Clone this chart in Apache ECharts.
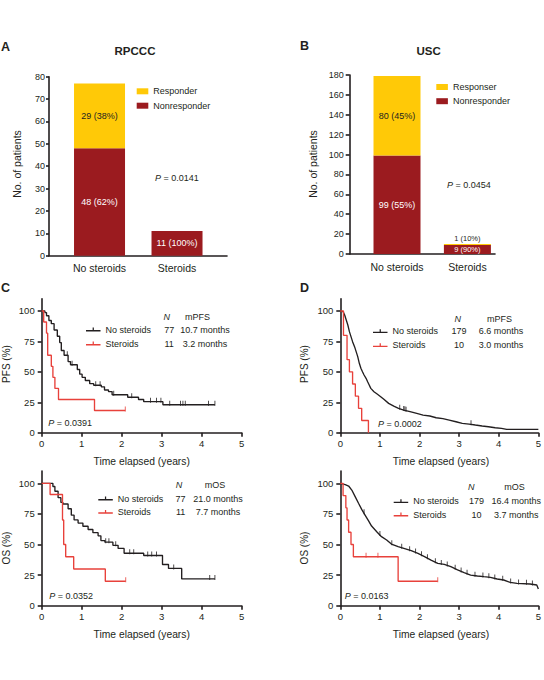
<!DOCTYPE html>
<html>
<head>
<meta charset="UTF-8">
<title>Steroids: response and survival</title>
<script src="https://cdn.jsdelivr.net/npm/echarts@6/dist/echarts.min.js"></script>
<style>
  html, body { margin: 0; padding: 0; background: #fff; }
  #chart { width: 544px; height: 680px; }
</style>
</head>
<body>
<div id="chart"></div>
<script>
// ---- bar panels (A, B) ----
const barCategories = ['No steroids', 'Steroids'];
const rpcccNonresponder = [48, 11];
const rpcccResponder = [29, 0];
const uscNonresponder = [99, 9];
const uscResponder = [80, 1];

// ---- Kaplan-Meier panels: times in years, survival in % ----
// C: PFS, RPCCC
const pfsRpcccNoT = [0, 0.08, 0.12, 0.18, 0.24, 0.31, 0.39, 0.45, 0.49, 0.56, 0.66, 0.72, 0.89, 0.95, 1.01, 1.09, 1.2, 1.3, 1.49, 1.57, 1.67, 1.76, 2.15, 2.42, 2.55, 3.03, 4.33];
const pfsRpcccNoS = [100, 98.7, 96.1, 92.2, 89.6, 84.4, 79.2, 74.0, 67.5, 63.6, 58.4, 55.8, 51.9, 48.1, 45.5, 42.9, 40.3, 39.0, 37.7, 35.1, 33.8, 31.2, 29.1, 27.3, 25.5, 23.0, 23.0];
const pfsRpcccNoCens = [0.64, 0.76, 1.35, 1.46, 1.8, 2.25, 2.72, 2.87, 2.98, 3.2, 3.47, 3.53, 3.59, 4.17, 4.33];
const pfsRpcccStT = [0, 0.05, 0.12, 0.15, 0.24, 0.28, 0.33, 0.42, 1.32, 2.09];
const pfsRpcccStS = [100, 90.9, 81.8, 63.6, 54.5, 45.5, 36.4, 27.3, 18.2, 18.2];
const pfsRpcccStCens = [2.09];
const pfsRpcccN = [77, 11];
const pfsRpcccMedian = ['10.7 months', '3.2 months'];

// D: PFS, USC
const pfsUscNoT = [0, 0.07, 0.11, 0.15, 0.19, 0.23, 0.27, 0.31, 0.36, 0.4, 0.44, 0.48, 0.52, 0.56, 0.6, 0.65, 0.69, 0.73, 0.77, 0.85, 0.93, 1.02, 1.1, 1.22, 1.35, 1.47, 1.6, 1.76, 1.93, 2.09, 2.26, 2.42, 2.59, 2.75, 2.92, 3.08, 3.25, 3.41, 3.58, 3.74, 3.91, 4.07, 4.2, 5.0];
const pfsUscNoS = [100, 99.5, 96.7, 92.6, 88.5, 83.0, 78.9, 74.8, 70.7, 66.6, 62.5, 57.0, 52.9, 50.1, 47.4, 44.7, 41.9, 39.2, 36.4, 33.7, 31.8, 29.6, 27.4, 24.1, 21.9, 20.0, 18.6, 17.3, 15.9, 14.5, 13.7, 12.3, 11.5, 10.4, 9.0, 7.7, 7.1, 6.3, 5.5, 4.9, 4.1, 3.6, 2.7, 2.7];
const pfsUscNoCens = [1.5, 1.6, 1.63, 1.66, 3.3];
const pfsUscStT = [0, 0.08, 0.17, 0.23, 0.31, 0.38, 0.46, 0.54, 0.71];
const pfsUscStS = [100, 80, 60, 50, 40, 30, 20, 10, 0];
const pfsUscStCens = [];
const pfsUscN = [179, 10];
const pfsUscMedian = ['6.6 months', '3.0 months'];

// E: OS, RPCCC
const osRpcccNoT = [0, 0.28, 0.33, 0.41, 0.48, 0.53, 0.66, 0.74, 0.81, 0.91, 1.03, 1.16, 1.28, 1.41, 1.48, 1.58, 1.78, 1.91, 2.06, 2.55, 3.02, 3.17, 3.5, 4.33];
const osRpcccNoS = [100, 97.4, 93.5, 88.3, 84.4, 83.1, 79.2, 74.0, 70.1, 67.5, 64.9, 62.3, 59.7, 57.1, 53.2, 51.9, 49.3, 46.8, 42.9, 41.0, 33.7, 30.5, 21.9, 21.9];
const osRpcccNoCens = [1.6, 1.68, 1.85, 2.2, 2.3, 2.65, 2.75, 2.87, 3.3, 4.2, 4.33];
const osRpcccStT = [0, 0.21, 0.52, 0.55, 0.6, 0.8, 1.59, 2.1];
const osRpcccStS = [100, 90.9, 70, 50, 40, 30, 20, 20];
const osRpcccStCens = [2.1];
const osRpcccN = [77, 11];
const osRpcccMedian = ['21.0 months', '7.7 months'];

// F: OS, USC
const osUscNoT = [0, 0.125, 0.21, 0.29, 0.375, 0.46, 0.54, 0.625, 0.71, 0.79, 0.92, 1.04, 1.17, 1.29, 1.46, 1.625, 1.79, 1.96, 2.125, 2.29, 2.46, 2.625, 2.79, 2.96, 3.125, 3.29, 3.46, 3.625, 3.79, 3.96, 4.125, 4.29, 4.46, 4.79, 4.96, 5.0];
const osUscNoS = [100, 99, 97.8, 94.5, 89.1, 83.7, 78.7, 74.1, 69.5, 65.1, 60.5, 56.4, 53.7, 50.4, 48.2, 46.6, 45, 42.8, 40.1, 37.3, 34.6, 33.8, 31.9, 29.2, 27, 25, 24.3, 23.7, 23.2, 21.8, 21, 19, 18.3, 17.7, 16.9, 13.6];
const osUscNoCens = [0.6, 1.0, 1.3, 1.55, 1.75, 1.9, 2.05, 2.2, 2.4, 2.55, 2.7, 2.9, 3.05, 3.2, 3.4, 3.6, 3.75, 3.9, 4.1, 4.3, 4.5, 4.7, 4.85];
const osUscStT = [0, 0.07, 0.14, 0.17, 0.21, 0.27, 0.33, 1.46, 2.46];
const osUscStS = [100, 90, 80, 70, 60, 50, 40, 20, 20];
const osUscStCens = [0.65, 0.95, 2.46];
const osUscN = [179, 10];
const osUscMedian = ['16.4 months', '3.7 months'];

const pValues = ['0.0141', '0.0454', '0.0391', '0.0002', '0.0352', '0.0163'];
const kmTicks = [0, 25, 50, 75, 100];

// ---- styling ----
const FONT = 'Liberation Sans, Arial, Helvetica, sans-serif';
const INK = '#231f20';
const RED = '#e8413b';
const YELLOW = '#ffc907';
const MAROON = '#9b1b1f';

const chart = echarts.init(document.getElementById('chart'), null, { renderer: 'svg' });

const axisLineStyle = { color: INK, width: 1.6 };

// value of a KM curve at time t (step, or linear for the dense curves)
function survAt(t, T, S, linear) {
  let i = 0;
  while (i + 1 < T.length && T[i + 1] <= t) i++;
  if (linear && i + 1 < T.length) {
    const f = (t - T[i]) / (T[i + 1] - T[i]);
    return S[i] + f * (S[i + 1] - S[i]);
  }
  return S[i];
}

const grids = [
  { left: 49, top: 76.7, width: 178, height: 179 },      // A
  { left: 349.7, top: 75, width: 145.3, height: 179 },   // B
  { left: 41.7, top: 298.8, width: 200, height: 133.9 }, // C
  { left: 340.3, top: 298.8, width: 201.7, height: 133.9 }, // D
  { left: 41.7, top: 471.1, width: 200, height: 134.6 }, // E
  { left: 340.3, top: 471.1, width: 201.7, height: 134.6 } // F
];

const xAxes = [];
const yAxes = [];
const series = [];
const legends = [];
const graphics = [];

function txt(text, x, y, opts) {
  const o = opts || {};
  return {
    type: 'text', x: x, y: y, rotation: o.rotation || 0, silent: true,
    style: {
      text: text, fill: INK, fontFamily: FONT,
      fontSize: o.size || 9, fontWeight: o.weight || 'normal', fontStyle: o.italic ? 'italic' : 'normal',
      align: o.align || 'left', verticalAlign: 'middle', rich: o.rich
    }
  };
}

// ---- bar panels ----
// data go in as [count, categoryIndex] so that the count is the stacked dimension
const barPanels = [
  { grid: 0, non: rpcccNonresponder, resp: rpcccResponder, respName: 'Responder', min: -0.652, max: 1.645,
    yMax: 80, yInt: 10, barWidth: 51, tickLen: 3, labMargin: 4, legend: { left: 136.7, top: 86.3, gap: 4.4 } },
  { grid: 1, non: uscNonresponder, resp: uscResponder, respName: 'Responser', min: -0.672, max: 1.392,
    yMax: 180, yInt: 20, barWidth: 47, tickLen: 4, labMargin: 6, legend: { left: 436.3, top: 82, gap: 4.2 } }
];

barPanels.forEach(p => {
  const totals = p.non.map((v, i) => v + p.resp[i]);
  const fmt = prm => {
    const v = prm.value[0];
    if (!v) return '';
    return v + ' (' + Math.round(v / totals[prm.value[1]] * 100) + '%)';
  };
  xAxes.push({
    gridIndex: p.grid, type: 'value', min: p.min, max: p.max,
    axisLine: { show: true, onZero: false, lineStyle: axisLineStyle },
    axisTick: { show: false }, splitLine: { show: false },
    axisLabel: { customValues: [0, 1], formatter: v => barCategories[Math.round(v)],
      color: INK, fontFamily: FONT, fontSize: 10.5, margin: 7 }
  });
  yAxes.push({
    gridIndex: p.grid, type: 'value', min: 0, max: p.yMax, interval: p.yInt,
    axisLine: { show: true, onZero: false, lineStyle: axisLineStyle },
    axisTick: { show: true, length: p.tickLen, lineStyle: axisLineStyle },
    splitLine: { show: false },
    axisLabel: { color: INK, fontFamily: FONT, fontSize: 9, margin: p.labMargin }
  });
  const small = v => v / p.yMax < 0.08;
  series.push({
    type: 'bar', name: 'Nonresponder', xAxisIndex: p.grid, yAxisIndex: p.grid, stack: 'b' + p.grid,
    encode: { x: 1, y: 0 },
    barWidth: p.barWidth, itemStyle: { color: MAROON },
    label: { show: true, position: 'inside', color: '#fff', fontFamily: FONT, fontSize: 9, formatter: fmt },
    data: p.non.map((v, i) => small(v) && totals[i] !== v
      ? { value: [v, i], label: { fontSize: 7.5 } } : [v, i])
  });
  series.push({
    type: 'bar', name: p.respName, xAxisIndex: p.grid, yAxisIndex: p.grid, stack: 'b' + p.grid,
    encode: { x: 1, y: 0 },
    barWidth: p.barWidth, itemStyle: { color: YELLOW },
    label: { show: true, position: 'inside', color: INK, fontFamily: FONT, fontSize: 9, formatter: fmt },
    data: p.resp.map((v, i) => v > 0 && small(v)
      ? { value: [v, i], label: { position: 'top', distance: 1.5, fontSize: 7.5 } } : [v, i])
  });
  legends.push({
    left: p.legend.left, top: p.legend.top, padding: 0, orient: 'vertical', itemGap: p.legend.gap,
    itemWidth: 11.6, itemHeight: 6, itemTextGap: 5, icon: 'rect', selectedMode: false,
    data: [p.respName, 'Nonresponder'],
    textStyle: { color: INK, fontFamily: FONT, fontSize: 9, lineHeight: 10 }
  });
});

// ---- KM panels ----
const kmPanels = [
  { grid: 2, no: [pfsRpcccNoT, pfsRpcccNoS, pfsRpcccNoCens], st: [pfsRpcccStT, pfsRpcccStS, pfsRpcccStCens], linear: false,
    N: pfsRpcccN, med: pfsRpcccMedian, head: 'mPFS', headY: 316.7, nX: 166.7, mX: 197.5,
    legend: { left: 86, top: 325, gap: 5, w: [55.7, 16, 55.6] } },
  { grid: 3, no: [pfsUscNoT, pfsUscNoS, pfsUscNoCens], st: [pfsUscStT, pfsUscStS, pfsUscStCens], linear: true,
    N: pfsUscN, med: pfsUscMedian, head: 'mPFS', headY: 319.3, nX: 457.7, mX: 499.5,
    legend: { left: 373, top: 326.7, gap: 5, w: [58.5, 16, 68] } },
  { grid: 4, no: [osRpcccNoT, osRpcccNoS, osRpcccNoCens], st: [osRpcccStT, osRpcccStS, osRpcccStCens], linear: false,
    N: osRpcccN, med: osRpcccMedian, head: 'mOS', headY: 485, nX: 179, mX: 215,
    legend: { left: 98.3, top: 494, gap: 4.3, w: [54.8, 16, 58.6] } },
  { grid: 5, no: [osUscNoT, osUscNoS, osUscNoCens], st: [osUscStT, osUscStS, osUscStCens], linear: true,
    N: osUscN, med: osUscMedian, head: 'mOS', headY: 486.7, nX: 471.3, mX: 514.5,
    legend: { left: 393.7, top: 496.7, gap: 4.3, w: [54.3, 18, 61.4] } }
];

kmPanels.forEach(p => {
  xAxes.push({
    gridIndex: p.grid, type: 'value', min: 0, max: 5, interval: 1,
    axisLine: { show: true, onZero: false, lineStyle: axisLineStyle },
    axisTick: { show: true, length: 4, lineStyle: axisLineStyle },
    splitLine: { show: false },
    axisLabel: { color: INK, fontFamily: FONT, fontSize: 9.5, margin: 6 }
  });
  yAxes.push({
    gridIndex: p.grid, type: 'value', min: 0, max: 110, interval: 25,
    axisLine: { show: true, onZero: false, lineStyle: axisLineStyle },
    axisTick: { show: true, length: 4, customValues: kmTicks, lineStyle: axisLineStyle },
    splitLine: { show: false },
    axisLabel: { customValues: kmTicks, color: INK, fontFamily: FONT, fontSize: 9.5, margin: 7 }
  });
  [['No steroids', p.no, INK, p.linear], ['Steroids', p.st, RED, false]].forEach(([name, c, color, linear]) => {
    const [T, S, C] = c;
    series.push({
      type: 'line', name: name, xAxisIndex: p.grid, yAxisIndex: p.grid,
      step: linear ? false : 'end', showSymbol: false, symbol: 'none',
      lineStyle: { color: color, width: 1.35 }, itemStyle: { color: color },
      data: T.map((t, i) => [t, S[i]])
    });
    series.push({
      type: 'scatter', name: name + ' censored', xAxisIndex: p.grid, yAxisIndex: p.grid,
      symbol: 'rect', symbolSize: [1, 5], symbolOffset: [0, -1.5], itemStyle: { color: color },
      data: C.map(t => [t, survAt(t, T, S, linear)])
    });
  });
  const w = p.legend.w;
  legends.push({
    left: p.legend.left, top: p.legend.top, padding: 0, orient: 'vertical', itemGap: p.legend.gap,
    itemWidth: 14.5, itemHeight: 6, itemTextGap: 3.5, selectedMode: false,
    icon: 'path://M0,4h14v1.3h-14z M6.4,1.6h1.2v3h-1.2z',
    data: ['No steroids', 'Steroids'],
    formatter: name => {
      const i = name === 'No steroids' ? 0 : 1;
      return '{a|' + name + '}{b|' + p.N[i] + '}{c|' + p.med[i] + '}';
    },
    textStyle: {
      color: INK, fontFamily: FONT, fontSize: 9,
      rich: {
        a: { width: w[0], fontSize: 9, lineHeight: 10, fontFamily: FONT, color: INK },
        b: { width: w[1], align: 'center', fontSize: 9, lineHeight: 10, fontFamily: FONT, color: INK },
        c: { width: w[2], align: 'center', fontSize: 9, lineHeight: 10, fontFamily: FONT, color: INK }
      }
    }
  });
  graphics.push(txt('N', p.nX, p.headY, { italic: true, align: 'center' }));
  graphics.push(txt(p.head, p.mX, p.headY, { align: 'center' }));
});

// ---- texts ----
const pRich = { i: { fontStyle: 'italic', fontFamily: FONT, fontSize: 9, fill: INK } };
const pPos = [[155, 178.3], [447, 185], [48.3, 423.3], [378, 424.3], [49.3, 596], [344.7, 596]];
pValues.forEach((v, i) => graphics.push(txt('{i|P} = ' + v, pPos[i][0], pPos[i][1], { rich: pRich })));

graphics.push(txt('A', 1, 46.5, { size: 12.5, weight: 'bold' }));
graphics.push(txt('B', 300, 45.5, { size: 12.5, weight: 'bold' }));
graphics.push(txt('C', 1, 288, { size: 12.5, weight: 'bold' }));
graphics.push(txt('D', 300, 288, { size: 12.5, weight: 'bold' }));
graphics.push(txt('RPCCC', 135, 51, { size: 11.5, weight: 'bold', align: 'center' }));
graphics.push(txt('USC', 428.7, 51, { size: 11.5, weight: 'bold', align: 'center' }));

const up = Math.PI / 2;
graphics.push(txt('No. of patients', 16.5, 164, { size: 10.5, align: 'center', rotation: up }));
graphics.push(txt('No. of patients', 313, 164, { size: 10.5, align: 'center', rotation: up }));
graphics.push(txt('PFS (%)', 6, 364, { size: 10, align: 'center', rotation: up }));
graphics.push(txt('PFS (%)', 304.5, 364, { size: 10, align: 'center', rotation: up }));
graphics.push(txt('OS (%)', 6, 548, { size: 10, align: 'center', rotation: up }));
graphics.push(txt('OS (%)', 304.5, 548, { size: 10, align: 'center', rotation: up }));
[[141.7, 461.5], [441, 461.5], [141.7, 634.3], [441, 634.3]].forEach(([x, y]) =>
  graphics.push(txt('Time elapsed (years)', x, y, { size: 10.3, align: 'center' })));

chart.setOption({
  animation: false,
  backgroundColor: '#fff',
  textStyle: { fontFamily: FONT },
  grid: grids,
  xAxis: xAxes,
  yAxis: yAxes,
  legend: legends,
  series: series,
  graphic: graphics
});
</script>
</body>
</html>
